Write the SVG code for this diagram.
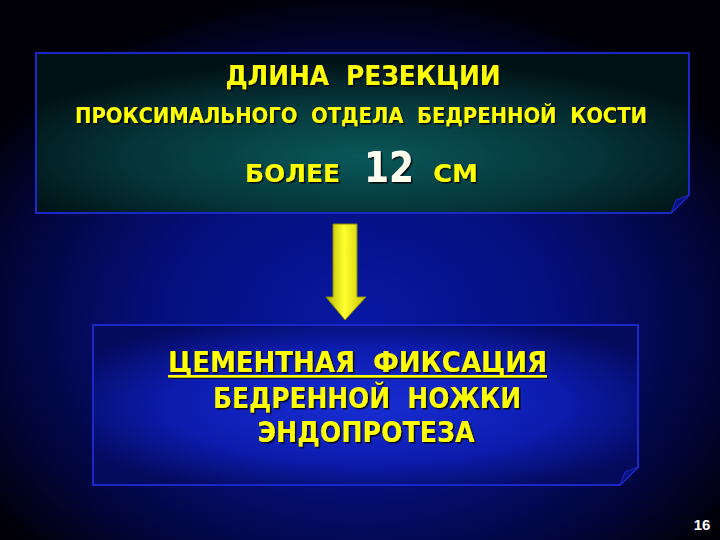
<svg xmlns="http://www.w3.org/2000/svg" width="720" height="540" viewBox="0 0 720 540">
<defs>
<radialGradient id="bg" cx="0.5" cy="0.6" r="0.62">
<stop offset="0" stop-color="#0818a4"/>
<stop offset="0.45" stop-color="#050f7c"/>
<stop offset="0.8" stop-color="#020538"/>
<stop offset="1" stop-color="#000006"/>
</radialGradient>
<radialGradient id="g1" cx="0.5" cy="0.65" r="0.6">
<stop offset="0" stop-color="#09585a"/>
<stop offset="0.6" stop-color="#053438"/>
<stop offset="1" stop-color="#011216"/>
</radialGradient>
<radialGradient id="g2" cx="0.5" cy="0.5" r="0.6">
<stop offset="0" stop-color="#182ed4"/>
<stop offset="0.6" stop-color="#0c1cae"/>
<stop offset="1" stop-color="#040a5c"/>
</radialGradient>
<linearGradient id="ag" x1="0" y1="0" x2="1" y2="0">
<stop offset="0" stop-color="#b0b000"/>
<stop offset="0.45" stop-color="#ffff30"/>
<stop offset="1" stop-color="#c8c400"/>
</linearGradient>
<filter id="sh" x="-10%" y="-30%" width="120%" height="160%">
<feDropShadow dx="1.5" dy="1.5" stdDeviation="0.5" flood-color="#000" flood-opacity="0.85"/>
</filter>
</defs>
<style>
.t{font-family:"DejaVu Sans Condensed","DejaVu Sans","Liberation Sans",sans-serif;font-weight:bold;fill:#ffff00;filter:url(#sh)}
.box{stroke:#1a28c8;stroke-width:2}
</style>
<rect width="720" height="540" fill="url(#bg)"/>
<g id="node1">
<path class="box" d="M36,53 H689 V195 L671,213 H36 Z" fill="url(#g1)"/>
<path d="M689,195 L671,213 L676,200 Z" fill="#0a1480" stroke="#1a28c8" stroke-width="1"/>
<text class="t" x="363" y="85" font-size="27" text-anchor="middle" textLength="275" lengthAdjust="spacingAndGlyphs" xml:space="preserve">ДЛИНА  РЕЗЕКЦИИ</text>
<text class="t" x="361" y="123" font-size="21" text-anchor="middle" textLength="572" lengthAdjust="spacingAndGlyphs" xml:space="preserve">ПРОКСИМАЛЬНОГО  ОТДЕЛА  БЕДРЕННОЙ  КОСТИ</text>
<text class="t" x="245" y="182" font-size="25" textLength="95" lengthAdjust="spacingAndGlyphs">БОЛЕЕ</text>
<text class="t" x="364" y="182" font-size="42" style="fill:#fffff0" textLength="50" lengthAdjust="spacingAndGlyphs">12</text>
<text class="t" x="433" y="182" font-size="25" textLength="45" lengthAdjust="spacingAndGlyphs">СМ</text>
</g>
<g id="connectors">
<path d="M333,224 H357 V297 H366 L345,320 L326,297 H333 Z" fill="url(#ag)" stroke="#8a8a00" stroke-width="1"/>
</g>
<g id="node2">
<path class="box" d="M93,325 H638 V467 L620,485 H93 Z" fill="url(#g2)"/>
<path d="M638,467 L620,485 L625,472 Z" fill="#0a1480" stroke="#1a28c8" stroke-width="1"/>
<text class="t" x="168" y="372" font-size="28" textLength="379" lengthAdjust="spacingAndGlyphs" xml:space="preserve">ЦЕМЕНТНАЯ  ФИКСАЦИЯ</text>
<rect x="168" y="375" width="379" height="2.5" fill="#ffff00" filter="url(#sh)"/>
<text class="t" x="367" y="408" font-size="28" text-anchor="middle" textLength="308" lengthAdjust="spacingAndGlyphs" xml:space="preserve">БЕДРЕННОЙ  НОЖКИ</text>
<text class="t" x="366" y="442" font-size="28" text-anchor="middle" textLength="217" lengthAdjust="spacingAndGlyphs">ЭНДОПРОТЕЗА</text>
</g>
<text x="702" y="530" font-family="Liberation Sans,Arial,sans-serif" font-weight="bold" font-size="15" fill="#ffffff" text-anchor="middle">16</text>
</svg>
